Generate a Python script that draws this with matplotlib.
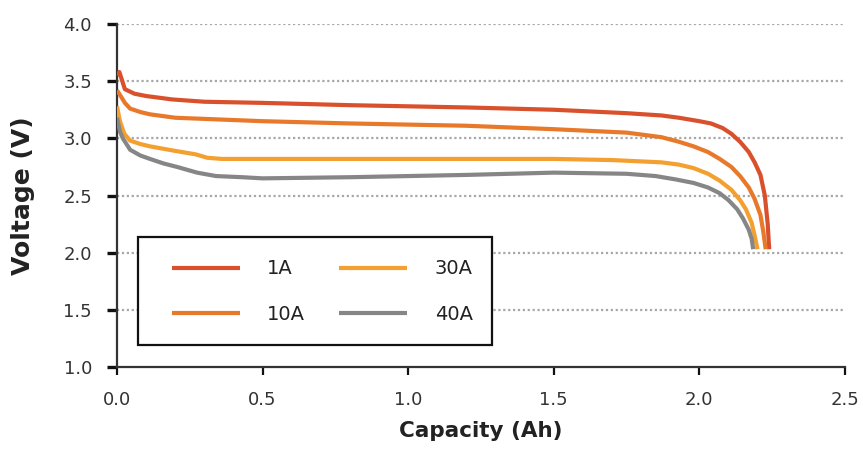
import matplotlib
matplotlib.use("Agg")
import matplotlib.pyplot as plt
from matplotlib.patches import Rectangle

plt.rcParams['font.family'] = ['DejaVu Sans']

# Discharge curves: capacity (Ah) vs. voltage (V) at four currents
cap_1a = [0, 0.008, 0.027, 0.06, 0.10, 0.19, 0.30, 0.50, 0.80, 1.00, 1.20, 1.50,
          1.75, 1.87, 1.93, 2.00, 2.04, 2.08, 2.11, 2.14, 2.17, 2.19, 2.21,
          2.225, 2.235, 2.24]
volt_1a = [3.55, 3.58, 3.43, 3.39, 3.37, 3.34, 3.32, 3.31, 3.29, 3.28, 3.27, 3.25,
           3.22, 3.20, 3.18, 3.15, 3.13, 3.09, 3.04, 2.97, 2.88, 2.79, 2.68,
           2.50, 2.25, 2.03]

cap_10a = [0, 0.01, 0.027, 0.045, 0.08, 0.113, 0.20, 0.30, 0.50, 0.80, 1.20, 1.50,
           1.75, 1.87, 1.93, 1.98, 2.03, 2.07, 2.11, 2.14, 2.17, 2.19, 2.21,
           2.22, 2.228]
volt_10a = [3.42, 3.38, 3.31, 3.26, 3.23, 3.21, 3.18, 3.17, 3.15, 3.13, 3.11, 3.08,
            3.05, 3.01, 2.97, 2.93, 2.88, 2.82, 2.75, 2.67, 2.57, 2.47, 2.33,
            2.18, 2.03]

cap_30a = [0, 0.01, 0.025, 0.045, 0.08, 0.113, 0.20, 0.27, 0.31, 0.36, 0.50, 0.80,
           1.20, 1.50, 1.70, 1.87, 1.93, 1.98, 2.03, 2.07, 2.11, 2.14, 2.16, 2.18,
           2.19, 2.20]
volt_30a = [3.28, 3.15, 3.04, 2.98, 2.95, 2.93, 2.89, 2.86, 2.83, 2.82, 2.82, 2.82,
            2.82, 2.82, 2.81, 2.79, 2.77, 2.74, 2.69, 2.63, 2.55, 2.46, 2.38, 2.26,
            2.15, 2.03]

cap_40a = [0, 0.01, 0.02, 0.045, 0.08, 0.113, 0.16, 0.206, 0.275, 0.34, 0.43, 0.50,
           0.80, 1.20, 1.50, 1.75, 1.85, 1.92, 1.98, 2.03, 2.07, 2.10, 2.13, 2.15,
           2.17, 2.18, 2.185]
volt_40a = [3.18, 3.06, 3.00, 2.90, 2.85, 2.82, 2.78, 2.75, 2.70, 2.67, 2.66, 2.65,
            2.66, 2.68, 2.70, 2.69, 2.67, 2.64, 2.61, 2.57, 2.52, 2.46, 2.38, 2.30,
            2.20, 2.12, 2.03]

labels = ['1A', '10A', '30A', '40A']
colors = ['#d9512c', '#e8792a', '#f4a031', '#868686']

x_ticks = [0.0, 0.5, 1.0, 1.5, 2.0, 2.5]
y_ticks = [1.0, 1.5, 2.0, 2.5, 3.0, 3.5, 4.0]

fig = plt.figure(figsize=(8.63, 4.5), dpi=100)
ax = fig.add_axes([0.1356, 0.1844, 0.8434, 0.7623])

series = [(cap_1a, volt_1a), (cap_10a, volt_10a), (cap_30a, volt_30a), (cap_40a, volt_40a)]
handles = []
for (cx, vy), lab, col in zip(series, labels, colors):
    h, = ax.plot(cx, vy, color=col, lw=3.0, solid_joinstyle='round',
                 solid_capstyle='butt', label=lab, zorder=3)
    handles.append(h)

# dotted horizontal grid
for yv in y_ticks[1:]:
    ax.axhline(yv, color='#a8a8a8', lw=1.6, ls=(0, (1, 1.2)), zorder=1)

ax.set_xlim(0, 2.5)
ax.set_ylim(1.0, 4.0)
ax.set_xticks(x_ticks)
ax.set_yticks(y_ticks)
ax.set_xticklabels([f'{v:.1f}' for v in x_ticks])
ax.set_yticklabels([f'{v:.1f}' for v in y_ticks])

for s in ['top', 'right']:
    ax.spines[s].set_visible(False)
for s in ['left', 'bottom']:
    ax.spines[s].set_linewidth(1.6)
    ax.spines[s].set_color('#333333')
ax.spines['bottom'].set_zorder(4)
ax.tick_params(axis='y', direction='out', length=7, width=2.4,
               color='#111111', labelsize=13, labelcolor='#333333', pad=11)
ax.tick_params(axis='x', direction='out', length=6, width=1.6,
               color='#111111', labelsize=13, labelcolor='#333333', pad=11)

ax.set_xlabel('Capacity (Ah)', fontsize=15.5, fontweight='bold', color='#222222', labelpad=9)
ax.set_ylabel('Voltage (V)', fontsize=18, fontweight='bold', color='#222222', labelpad=20)

# legend frame drawn as a plain box, entries placed inside it
frame = Rectangle((0.029, 0.064), 0.486, 0.315, transform=ax.transAxes,
                  facecolor='white', edgecolor='#111111', lw=1.6, zorder=5)
ax.add_patch(frame)
leg = ax.legend(handles=handles, labels=labels, ncol=2, loc='center left',
                bbox_to_anchor=(0.0755, 0.220, 0.413, 0.0), mode='expand',
                fontsize=14, frameon=False, handlelength=3.5, handletextpad=1.4,
                borderpad=0, labelspacing=1.35, columnspacing=1.6,
                borderaxespad=0)
leg.set_zorder(6)
for t in leg.get_texts():
    t.set_color('#222222')

fig.savefig('out.png', dpi=100, facecolor='white')
